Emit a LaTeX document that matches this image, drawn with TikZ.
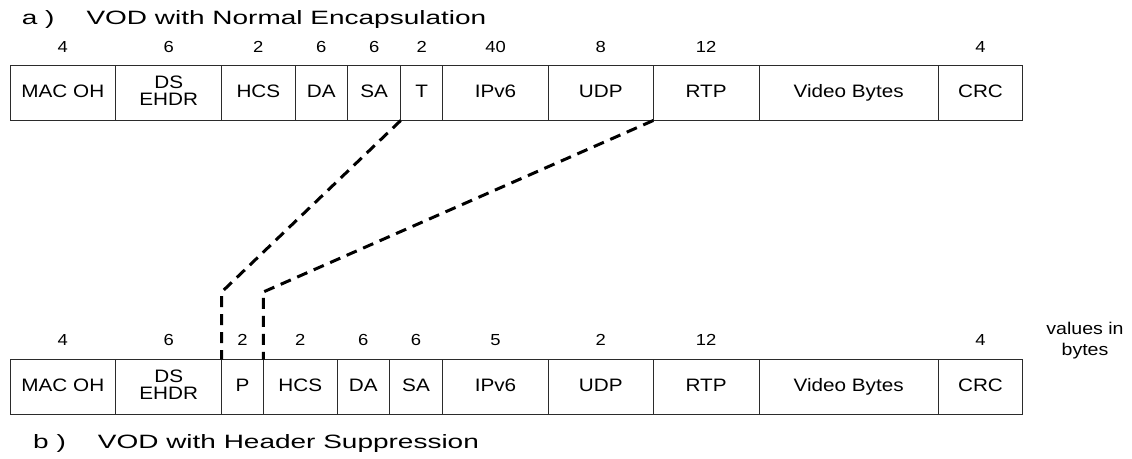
\documentclass[tikz,border=0pt]{standalone}
\usepackage{fontspec}
\setmainfont{Liberation Sans}[FakeStretch=1.15]
\newfontfamily\titlefont{Liberation Sans}[FakeStretch=1.45]
\usetikzlibrary{positioning}
\definecolor{pkLine}{HTML}{2B2B2B}

\begin{document}
\begin{tikzpicture}[
  x=1pt, y=1pt,
  campo/.style={draw=pkLine, line width=0.9pt, minimum height=55pt, inner sep=2pt,
                outer sep=0pt, align=center, text depth=4pt, font=\fontsize{18}{17}\selectfont},
  num/.style={font=\fontsize{16}{18}\selectfont, inner sep=0pt},
  titulo/.style={font=\titlefont\fontsize{19.3}{22}\selectfont, anchor=west, inner sep=0pt},
  supr/.style={line width=3pt, dash pattern=on 11pt off 7pt, black}
]
\useasboundingbox (0,0) rectangle (1132,458);

\coordinate (numA) at (0,411);
\coordinate (numB) at (0,118);
\coordinate (kink) at (0,166);

% a) normal encapsulation
\node[titulo] (tA) at (21.7,438) {a )\hspace{32pt}VOD with Normal Encapsulation};

\node[campo, minimum width=105.7pt, anchor=west] (t1) at (10,365) {MAC OH};
\node[campo, minimum width=106pt, right=0pt of t1] (t2) {DS\\EHDR};
\node[campo, minimum width=73.3pt, right=0pt of t2] (t3) {HCS};
\node[campo, minimum width=52.7pt, right=0pt of t3] (t4) {DA};
\node[campo, minimum width=53pt, right=0pt of t4] (t5) {SA};
\node[campo, minimum width=42pt, right=0pt of t5] (t6) {T};
\node[campo, minimum width=105.6pt, right=0pt of t6] (t7) {IPv6};
\node[campo, minimum width=105pt, right=0pt of t7] (t8) {UDP};
\node[campo, minimum width=105.7pt, right=0pt of t8] (t9) {RTP};
\node[campo, minimum width=179.3pt, right=0pt of t9] (t10) {Video Bytes};
\node[campo, minimum width=84.4pt, right=0pt of t10] (t11) {CRC};

\node[num] (nt1) at (t1 |- numA) {4};
\node[num] (nt2) at (t2 |- numA) {6};
\node[num] (nt3) at (t3 |- numA) {2};
\node[num] (nt4) at (t4 |- numA) {6};
\node[num] (nt5) at (t5 |- numA) {6};
\node[num] (nt6) at (t6 |- numA) {2};
\node[num] (nt7) at (t7 |- numA) {40};
\node[num] (nt8) at (t8 |- numA) {8};
\node[num] (nt9) at (t9 |- numA) {12};
\node[num] (nt11) at (t11 |- numA) {4};

% b) header suppression
\node[campo, minimum width=105.7pt, anchor=west] (b1) at (10,71) {MAC OH};
\node[campo, minimum width=106pt, right=0pt of b1] (b2) {DS\\EHDR};
\node[campo, minimum width=41.6pt, right=0pt of b2] (b3) {P};
\node[campo, minimum width=74pt, right=0pt of b3] (b4) {HCS};
\node[campo, minimum width=52pt, right=0pt of b4] (b5) {DA};
\node[campo, minimum width=53.4pt, right=0pt of b5] (b6) {SA};
\node[campo, minimum width=105.6pt, right=0pt of b6] (b7) {IPv6};
\node[campo, minimum width=105pt, right=0pt of b7] (b8) {UDP};
\node[campo, minimum width=105.7pt, right=0pt of b8] (b9) {RTP};
\node[campo, minimum width=179.3pt, right=0pt of b9] (b10) {Video Bytes};
\node[campo, minimum width=84.4pt, right=0pt of b10] (b11) {CRC};

\node[num] (nb1) at (b1 |- numB) {4};
\node[num] (nb2) at (b2 |- numB) {6};
\node[num] (nb3) at (b3 |- numB) {2};
\node[num] (nb4) at (b4 |- numB) {2};
\node[num] (nb5) at (b5 |- numB) {6};
\node[num] (nb6) at (b6 |- numB) {6};
\node[num] (nb7) at (b7 |- numB) {5};
\node[num] (nb8) at (b8 |- numB) {2};
\node[num] (nb9) at (b9 |- numB) {12};
\node[num] (nb11) at (b11 |- numB) {4};

\node[font=\fontsize{17}{21}\selectfont, align=center, inner sep=0pt] (unit) at (1085,117) {values in\\bytes};

\node[titulo] (tB) at (33,14) {b )\hspace{32pt}VOD with Header Suppression};

\draw[supr] (t5.south east) -- (b2.north east |- kink) -- (b2.north east);
\draw[supr] (t8.south east) -- (b3.north east |- kink) -- (b3.north east);

\end{tikzpicture}
\end{document}
